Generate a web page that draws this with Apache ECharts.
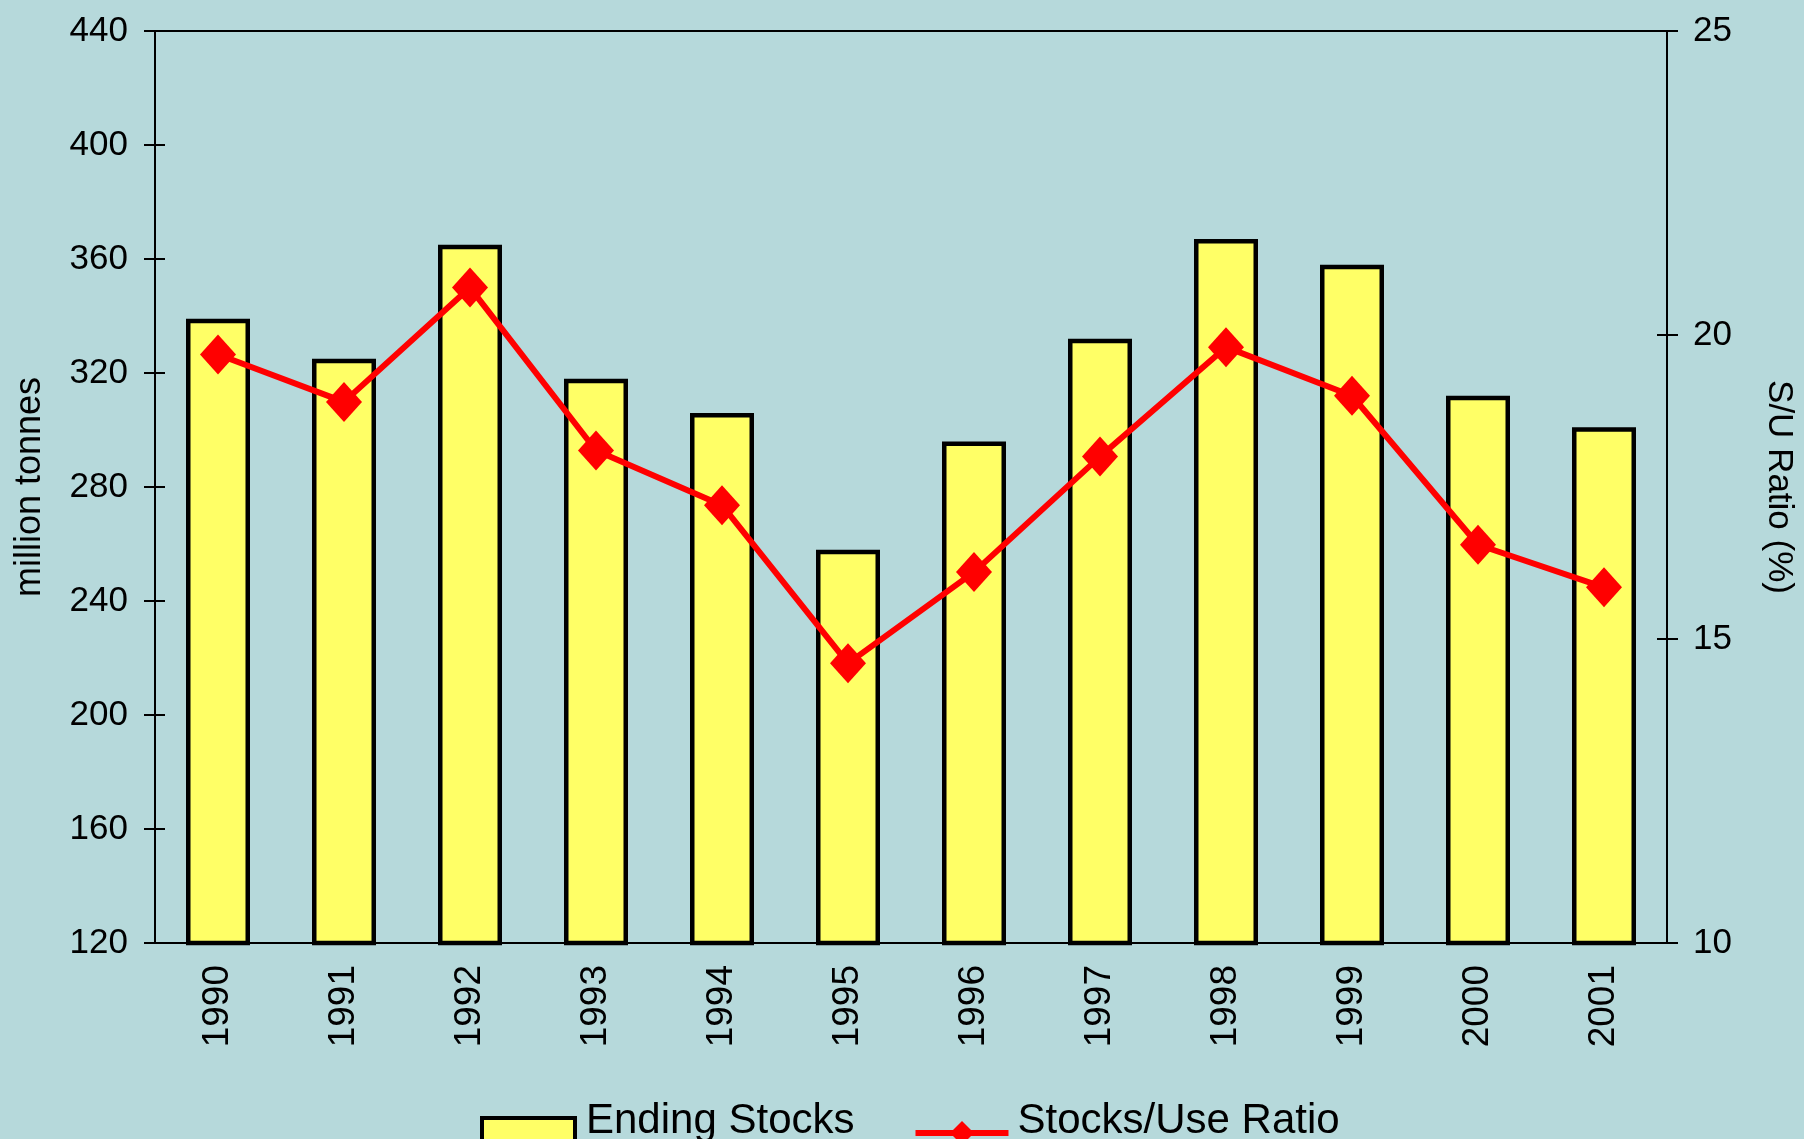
<!DOCTYPE html>
<html>
<head>
<meta charset="utf-8">
<script src="https://cdn.jsdelivr.net/npm/echarts@6/dist/echarts.min.js"></script>
<style>
  html, body { margin: 0; padding: 0; background: #b6d9db; }
  #chart { width: 1804px; height: 1139px; }
</style>
</head>
<body>
<div id="chart"></div>
<script>
// data
const years = ["1990", "1991", "1992", "1993", "1994", "1995", "1996", "1997", "1998", "1999", "2000", "2001"];
const endingStocks = [339, 325, 365, 318, 306, 258, 296, 332, 367, 358, 312, 301];
const stocksUseRatio = [19.68, 18.9, 20.78, 18.1, 17.2, 14.6, 16.1, 18.0, 19.8, 19.0, 16.55, 15.85];

const font = "Liberation Sans, Arial, sans-serif";

const chart = echarts.init(document.getElementById("chart"));

const tickStyle = { color: "#000", width: 2 };

// the text in the reference legend sits higher than its keys,
// so keys and texts come from two legends laid out the same way
const legendBase = {
  left: 475,
  itemWidth: 93,
  itemHeight: 30,
  itemGap: 57,
  selectedMode: false,
};

const option = {
  backgroundColor: "#b6d9db",
  animation: false,
  textStyle: { fontFamily: font, color: "#000" },
  grid: {
    left: 155,
    right: 131,
    top: 31,
    bottom: 196,
    show: true,
    borderColor: "#000",
    borderWidth: 2,
    backgroundColor: "transparent",
  },
  legend: [
    {
      ...legendBase,
      top: 1107,
      textStyle: { fontFamily: font, fontSize: 42, color: "rgba(0,0,0,0)", padding: [0, 0, 0, 7] },
      data: [
        {
          name: "Ending Stocks",
          icon: "rect",
          itemStyle: { color: "#ffff66", borderColor: "#000", borderWidth: 4 },
        },
        { name: "Stocks/Use Ratio", lineStyle: { width: 6 } },
      ],
    },
    {
      ...legendBase,
      top: 1095,
      textStyle: { fontFamily: font, fontSize: 42, color: "#000", padding: [0, 0, 0, 7] },
      data: [
        { name: "Ending Stocks", itemStyle: { opacity: 0 } },
        { name: "Stocks/Use Ratio", itemStyle: { opacity: 0 }, lineStyle: { opacity: 0 } },
      ],
    },
  ],
  xAxis: [
    {
      type: "category",
      data: years,
      axisLine: { lineStyle: { color: "#000", width: 2 } },
      axisTick: { length: 10, lineStyle: tickStyle },
      axisLabel: {
        rotate: 90,
        margin: 22,
        fontSize: 37,
        color: "#000",
        fontFamily: font,
      },
    },
    {
      // inner half of the crossing ticks
      type: "category",
      data: years,
      position: "bottom",
      axisLine: { show: false },
      axisTick: { inside: true, length: 10, lineStyle: tickStyle },
      axisLabel: { show: false },
    },
  ],
  yAxis: [
    {
      type: "value",
      min: 120,
      max: 440,
      interval: 40,
      name: "million tonnes",
      nameLocation: "middle",
      nameGap: 107,
      nameTextStyle: { fontSize: 36, color: "#000", fontFamily: font },
      axisLine: { show: true, lineStyle: { color: "#000", width: 2 } },
      axisTick: { show: true, length: 11, lineStyle: tickStyle },
      axisLabel: { margin: 27, fontSize: 35, color: "#000", fontFamily: font },
      splitLine: { show: false },
    },
    {
      type: "value",
      min: 10,
      max: 25,
      interval: 5,
      position: "right",
      name: "S/U Ratio (%)",
      nameLocation: "middle",
      nameGap: 94,
      nameRotate: -90,
      nameTextStyle: { fontSize: 35, color: "#000", fontFamily: font },
      axisLine: { show: true, lineStyle: { color: "#000", width: 2 } },
      axisTick: { show: true, length: 11, lineStyle: tickStyle },
      axisLabel: { margin: 26, fontSize: 35, color: "#000", fontFamily: font },
      splitLine: { show: false },
    },
    {
      // inner halves of the left ticks
      type: "value",
      min: 120,
      max: 440,
      interval: 40,
      position: "left",
      axisLine: { show: false },
      axisTick: { show: true, inside: true, length: 10, lineStyle: tickStyle },
      axisLabel: { show: false },
      splitLine: { show: false },
    },
    {
      // inner halves of the right ticks
      type: "value",
      min: 10,
      max: 25,
      interval: 5,
      position: "right",
      axisLine: { show: false },
      axisTick: { show: true, inside: true, length: 10, lineStyle: tickStyle },
      axisLabel: { show: false },
      splitLine: { show: false },
    },
  ],
  series: [
    {
      name: "Ending Stocks",
      type: "bar",
      data: endingStocks,
      barWidth: 64,
      itemStyle: { color: "#ffff66", borderColor: "#000", borderWidth: 4.5 },
    },
    {
      name: "Stocks/Use Ratio",
      type: "line",
      yAxisIndex: 1,
      data: stocksUseRatio,
      symbol: "diamond",
      symbolSize: [36, 40],
      z: 5,
      lineStyle: { color: "#ff0000", width: 6 },
      itemStyle: { color: "#ff0000" },
    },
  ],
};

chart.setOption(option);
</script>
</body>
</html>
